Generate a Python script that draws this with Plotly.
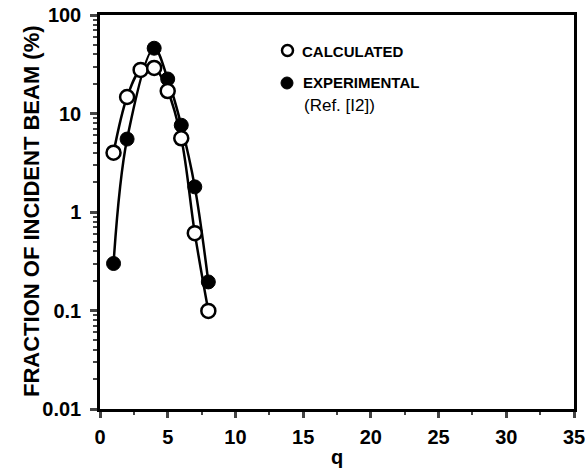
import plotly.graph_objects as go

q_calc = [1, 2, 3, 4, 5, 6, 7, 8]
frac_calc = [4.0, 14.7, 27.7, 29.0, 16.9, 5.6, 0.61, 0.099]

q_exp = [1, 2, 4, 5, 6, 7, 8]
frac_exp = [0.30, 5.5, 46.0, 22.4, 7.6, 1.8, 0.195]

y_tickvals = [0.01, 0.1, 1, 10, 100]
y_ticktext = ["0.01", "0.1", "1", "10", "100"]
x_tickvals = [0, 5, 10, 15, 20, 25, 30, 35]

FONT = "Liberation Sans, Arial, sans-serif"

# plot area in pixels
L, R, T, B = 100, 574, 15, 409
W, H = R - L, B - T


def px(x):
    return (x - L) / W


def py(y):
    return (B - y) / H


fig = go.Figure()

fig.add_trace(go.Scatter(
    x=q_exp, y=frac_exp, mode="lines+markers",
    line=dict(color="black", width=2.5, shape="spline", smoothing=1.0),
    marker=dict(size=14, color="black", line=dict(color="black", width=1)),
    showlegend=False, cliponaxis=False,
))
fig.add_trace(go.Scatter(
    x=q_calc, y=frac_calc, mode="lines+markers",
    line=dict(color="black", width=2.5, shape="spline", smoothing=1.0),
    marker=dict(size=14, color="white", line=dict(color="black", width=2.5)),
    showlegend=False, cliponaxis=False,
))

# legend symbols (decoration)
fig.add_shape(type="circle", xref="paper", yref="paper",
              x0=px(282), x1=px(293), y0=py(56), y1=py(45),
              line=dict(color="black", width=2.5), fillcolor="white")
fig.add_shape(type="circle", xref="paper", yref="paper",
              x0=px(281), x1=px(293), y0=py(89), y1=py(77),
              line=dict(color="black", width=1), fillcolor="black")

fig.add_annotation(text="<b>CALCULATED</b>", xref="paper", yref="paper",
                   x=px(300), y=py(51), xanchor="left", yanchor="middle",
                   showarrow=False, font=dict(family=FONT, size=15, color="black"))
fig.add_annotation(text="<b>EXPERIMENTAL</b>", xref="paper", yref="paper",
                   x=px(301), y=py(82), xanchor="left", yanchor="middle",
                   showarrow=False, font=dict(family=FONT, size=15, color="black"))
fig.add_annotation(text="(Ref. [I2])", xref="paper", yref="paper",
                   x=px(302), y=py(106), xanchor="left", yanchor="middle",
                   showarrow=False, font=dict(family=FONT, size=17, color="black"))

# axis titles
fig.add_annotation(text="<b>q</b>", xref="paper", yref="paper",
                   x=px(337), y=py(457), xanchor="center", yanchor="middle",
                   showarrow=False, font=dict(family=FONT, size=20, color="black"))
fig.add_annotation(text="<b>FRACTION OF INCIDENT BEAM (%)</b>", xref="paper", yref="paper",
                   x=px(31), y=py(211), xanchor="center", yanchor="middle", textangle=-90,
                   showarrow=False, font=dict(family=FONT, size=22, color="black"))

fig.update_layout(
    width=585, height=470,
    margin=dict(l=L, r=585 - R, t=T, b=470 - B, autoexpand=False),
    paper_bgcolor="white", plot_bgcolor="white",
    font=dict(family=FONT, color="black"),
    xaxis=dict(
        range=[0, 35], tickvals=x_tickvals, ticks="outside", ticklen=6, tickwidth=2.5,
        showline=True, linecolor="black", linewidth=2.5, mirror=True,
        showgrid=False, zeroline=False, automargin=False, ticklabelstandoff=2,
        ticklabeloverflow="allow",
        tickfont=dict(family=FONT, size=20, color="black", weight="bold"),
        minor=dict(dtick=2.5, ticks="outside", ticklen=3, tickwidth=2, showgrid=False),
    ),
    yaxis=dict(
        type="log", range=[-2, 2], tickvals=y_tickvals, ticktext=y_ticktext,
        ticks="outside", ticklen=7, tickwidth=2.5,
        showline=True, linecolor="black", linewidth=2.5, mirror=True,
        showgrid=False, zeroline=False, automargin=False, ticklabelstandoff=5,
        ticklabeloverflow="allow",
        tickfont=dict(family=FONT, size=20, color="black", weight="bold"),
        minor=dict(dtick="D1", ticks="outside", ticklen=4, tickwidth=2, showgrid=False),
    ),
)

fig.write_html("out.html")
